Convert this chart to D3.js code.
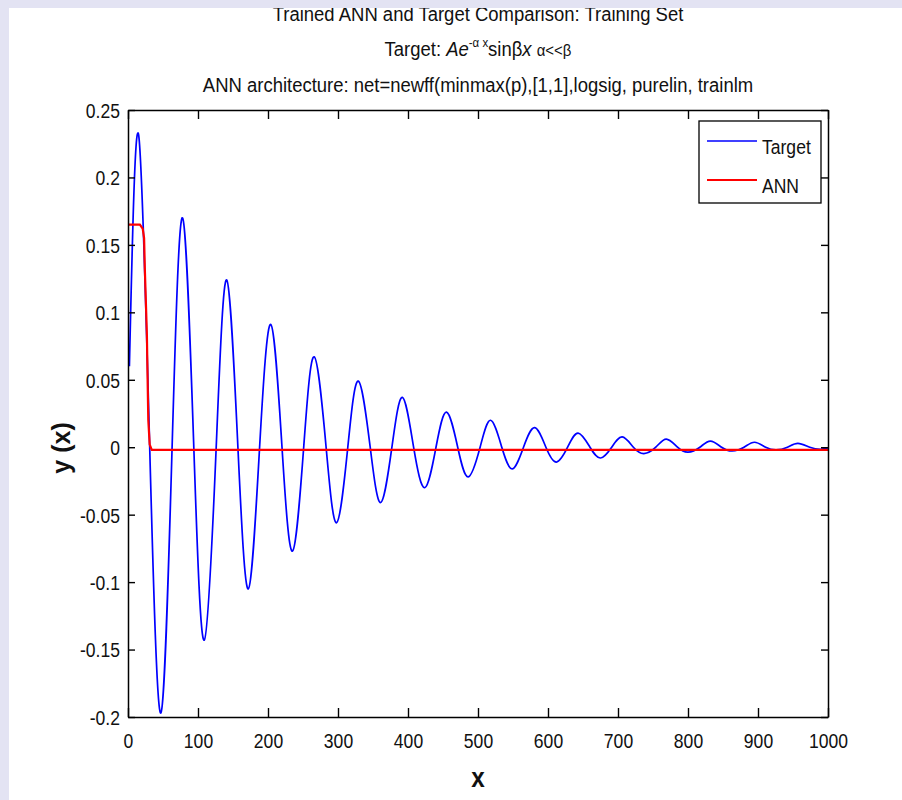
<!DOCTYPE html>
<html><head><meta charset="utf-8">
<script src="https://cdn.jsdelivr.net/npm/d3@7"></script>
<style>
html,body{margin:0;padding:0;background:#fff;}
svg{display:block;}
text{font-family:"Liberation Sans",Arial,Helvetica,sans-serif;fill:#111;}
</style></head>
<body>
<script>
// ---------- data ----------
const seriesNames = ["Target", "ANN"];
const xTicks = [0,100,200,300,400,500,600,700,800,900,1000];
const xTickLabels = ["0","100","200","300","400","500","600","700","800","900","1000"];
const yTicks = [0.25,0.2,0.15,0.1,0.05,0,-0.05,-0.1,-0.15,-0.2];
const yTickLabels = ["0.25","0.2","0.15","0.1","0.05","0","-0.05","-0.1","-0.15","-0.2"];

// Target: peaks, troughs and zero crossings
const targetX = [2,15,31,47,63,78,94,109,126,141,157,172,188,204,220,235,251,266,283,298,314,329,346,361,377,392,408,424,440,455,471,486,503,518,534,549,565,581,597,612,628,643,660,675,691,706,722,737,754,769,785,800,817,832,848,863,880,895,911,926,942,957,974,989,1000];
const targetY = [0.06,0.232,0,-0.197,0,0.170,0,-0.143,0,0.124,0,-0.105,0,0.091,0,-0.077,0,0.067,0,-0.056,0,0.049,0,-0.041,0,0.037,0,-0.030,0,0.026,0,-0.022,0,0.020,0,-0.016,0,0.0145,0,-0.011,0,0.0105,0,-0.008,0,0.0076,0,-0.0047,0,0.006,0,-0.0037,0,0.0045,0,-0.0028,0,0.0037,0,-0.002,0,0.0028,0,-0.0015,-0.0005];

// ANN output (a logistic step)
const annX = [0,17,21,23,24,26,27,28,29,31,34,1000];
const annY = [0.165,0.165,0.162,0.155,0.133,0.10,0.083,0.05,0.02,0.002,-0.002,-0.002];

const titleLine1 = "Trained ANN and Target Comparison: Training Set";
const titleLine3 = "ANN architecture: net=newff(minmax(p),[1,1],logsig, purelin, trainlm";
const xLabel = "x";
const yLabel = "y (x)";

// ---------- drawing ----------
const W = 902, H = 800;
const L = 128, R = 828, T = 110, B = 717;
const SX = 0.9; // horizontal squeeze of the reference's text

const svg = d3.select("body").append("svg").attr("width", W).attr("height", H);
svg.append("rect").attr("width", W).attr("height", H).attr("fill", "#fff");

const x = d3.scaleLinear().domain([0, 1000]).range([L, R]);
const y = d3.scaleLinear().domain([-0.2, 0.25]).range([B, T]);

svg.append("clipPath").attr("id", "clip").append("rect")
  .attr("x", L).attr("y", T).attr("width", R - L).attr("height", B - T);

const target = targetX.map((d, i) => [d, targetY[i]]);
const ann = annX.map((d, i) => [d, annY[i]]);

const gLines = svg.append("g").attr("clip-path", "url(#clip)");
gLines.append("path").datum(target)
  .attr("fill", "none").attr("stroke", "#0000ff").attr("stroke-width", 1.7)
  .attr("d", d3.line().x(d => x(d[0])).y(d => y(d[1])).curve(d3.curveNatural));
gLines.append("path").datum(ann)
  .attr("fill", "none").attr("stroke", "#ff0000").attr("stroke-width", 2.2)
  .attr("d", d3.line().x(d => x(d[0])).y(d => y(d[1])));

// axes (ticks inward, on all four sides)
const gx = svg.append("g").attr("transform", `translate(0,${B})`)
  .call(d3.axisBottom(x).tickValues(xTicks).tickSize(-9).tickSizeOuter(0).tickPadding(17)
    .tickFormat((d, i) => xTickLabels[i]));
const gxt = svg.append("g").attr("transform", `translate(0,${T})`)
  .call(d3.axisTop(x).tickValues(xTicks).tickSize(-9).tickSizeOuter(0).tickFormat(""));
const gy = svg.append("g").attr("transform", `translate(${L},0)`)
  .call(d3.axisLeft(y).tickValues(yTicks).tickSize(-7).tickSizeOuter(0).tickPadding(9)
    .tickFormat((d, i) => yTickLabels[i]));
const gyr = svg.append("g").attr("transform", `translate(${R},0)`)
  .call(d3.axisRight(y).tickValues(yTicks).tickSize(-7).tickSizeOuter(0).tickFormat(""));

[gx, gxt, gy, gyr].forEach(g => {
  g.select(".domain").attr("stroke", "#000").attr("stroke-width", 1.5);
  g.selectAll(".tick line").attr("stroke", "#000").attr("stroke-width", 1.4);
  g.selectAll(".tick text").attr("font-size", 19.5)
    .attr("font-family", "Liberation Sans, Arial, sans-serif").attr("fill", "#111");
});
gx.selectAll(".tick text").attr("transform", `scale(${SX},1)`);
gy.selectAll(".tick text").attr("transform", `scale(${SX},1)`).attr("dy", "0.38em");

// legend
const lg = svg.append("g");
lg.append("rect").attr("x", 699).attr("y", 121).attr("width", 122).attr("height", 82)
  .attr("fill", "#fff").attr("stroke", "#000").attr("stroke-width", 1.3);
const legendColors = ["#0000ff", "#ff0000"];
const legendY = [141, 180];
seriesNames.forEach((n, i) => {
  lg.append("line").attr("x1", 707).attr("x2", 757).attr("y1", legendY[i]).attr("y2", legendY[i])
    .attr("stroke", legendColors[i]).attr("stroke-width", i ? 2.2 : 1.7);
  lg.append("text").attr("transform", `translate(762,${legendY[i] + 13}) scale(${SX},1)`)
    .attr("font-size", 19.5).text(n);
});

// titles
const cx = (L + R) / 2;
svg.append("text").attr("transform", `translate(${cx},21) scale(0.88,1)`)
  .attr("text-anchor", "middle").attr("font-size", 21).text(titleLine1);

const t2 = svg.append("text").attr("transform", `translate(${cx},56) scale(0.88,1)`)
  .attr("text-anchor", "middle").attr("font-size", 21);
t2.append("tspan").text("Target: ");
t2.append("tspan").attr("font-style", "italic").text("Ae");
t2.append("tspan").attr("font-size", 13).attr("dy", -9).text("-α x");
t2.append("tspan").attr("dy", 9).text("sinβ");
t2.append("tspan").attr("font-style", "italic").text("x ");
t2.append("tspan").attr("font-size", 17).text("α<<β");

svg.append("text").attr("transform", `translate(${cx},92) scale(0.88,1)`)
  .attr("text-anchor", "middle").attr("font-size", 21).text(titleLine3);

// axis labels
svg.append("text").attr("transform", `translate(${cx},787) scale(${SX},1)`)
  .attr("text-anchor", "middle").attr("font-size", 27).attr("font-weight", "bold").text(xLabel);
svg.append("text").attr("transform", `translate(70,448) rotate(-90)`)
  .attr("text-anchor", "middle").attr("font-size", 25).attr("font-weight", "bold").text(yLabel);

// lavender window border (top and left)
svg.append("rect").attr("x", 0).attr("y", 0).attr("width", W).attr("height", 8).attr("fill", "#e3e3f3");
svg.append("rect").attr("x", 0).attr("y", 0).attr("width", 9).attr("height", H).attr("fill", "#e3e3f3");
</script>
</body></html>
